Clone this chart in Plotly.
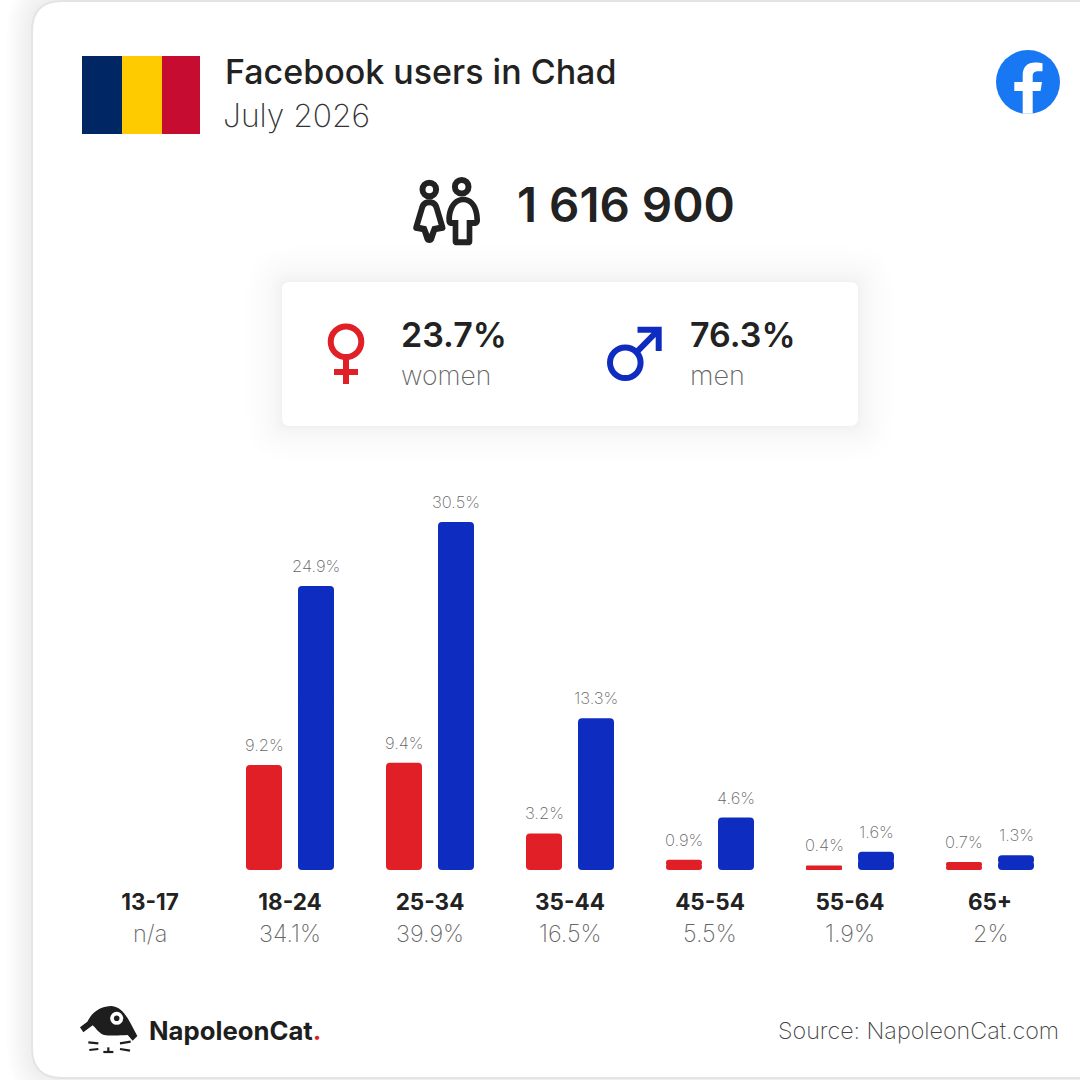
import re
import numpy as np
import plotly.graph_objects as go

SIZE = 1080
FONT = "Inter"
DARK = "#222222"
GREY = "#666666"
RED = "#e01f26"
BLUE = "#0f2cc0"

age_groups = ["13-17", "18-24", "25-34", "35-44", "45-54", "55-64", "65+"]
age_totals = ["n/a", "34.1%", "39.9%", "16.5%", "5.5%", "1.9%", "2%"]
women = [None, 9.2, 9.4, 3.2, 0.9, 0.4, 0.7]
men = [None, 24.9, 30.5, 13.3, 4.6, 1.6, 1.3]

total_users = "1 616 900"
women_share = "23.7%"
men_share = "76.3%"

flag_colors = ["#002664", "#fecb00", "#c60c30"]


def px(x, y):
    return x / SIZE, 1 - y / SIZE


# path written in picture pixels -> paper coords
def path(s, ox=0, oy=0, k=1):
    res, is_x = [], True
    for tok in re.findall(r"[A-Z]|-?\d+\.?\d*", s):
        if tok.isalpha():
            res.append(tok)
            continue
        if is_x:
            res.append(str((float(tok) / k + ox) / SIZE))
        else:
            res.append(str(1 - (float(tok) / k + oy) / SIZE))
        is_x = not is_x
    return " ".join(res)


def round_rect(x0, y0, x1, y1, r):
    return path(
        f"M {x0 + r} {y0} L {x1 - r} {y0} Q {x1} {y0} {x1} {y0 + r} L {x1} {y1 - r} "
        f"Q {x1} {y1} {x1 - r} {y1} L {x0 + r} {y1} Q {x0} {y1} {x0} {y1 - r} "
        f"L {x0} {y0 + r} Q {x0} {y0} {x0 + r} {y0} Z"
    )


shapes = []


def fill_path(s, color, opacity=1):
    shapes.append(dict(type="path", path=s, xref="paper", yref="paper", fillcolor=color,
                       opacity=opacity, line=dict(width=0), layer="below"))


def stroke_path(s, color, width):
    shapes.append(dict(type="path", path=s, xref="paper", yref="paper",
                       fillcolor="rgba(0,0,0,0)", line=dict(color=color, width=width), layer="below"))


def circle(cx, cy, r, fill="rgba(0,0,0,0)", color=None, width=0):
    x0, y0 = px(cx - r, cy + r)
    x1, y1 = px(cx + r, cy - r)
    shapes.append(dict(type="circle", x0=x0, y0=y0, x1=x1, y1=y1, xref="paper", yref="paper",
                       fillcolor=fill, line=dict(color=color or fill, width=width), layer="below"))


# card + soft shadows
for g in range(24, 0, -3):
    fill_path(round_rect(31 - g, 1 - g, 1130, 1078 + g, 30 + g), "#000000", 0.006)
shapes.append(dict(type="path", path=round_rect(32, 1, 1130, 1078, 30), xref="paper", yref="paper",
                   fillcolor="#ffffff", line=dict(color="#e4e4e4", width=2), layer="below"))
# opacity below ~0.004 rounds away to nothing
for g in [36, 30, 25, 21, 17, 14, 11, 9, 7, 5, 4, 3, 2, 1]:
    fill_path(round_rect(282 - g, 282 - g, 858 + g, 426 + g, 8 + g), "#000000", 0.004)
fill_path(round_rect(282, 282, 858, 426, 8), "#ffffff")

# flag
for i, col in enumerate(flag_colors):
    x0 = [82, 122, 162][i]
    x1 = [122, 162, 200][i]
    fill_path(path(f"M {x0} 56 L {x1} 56 L {x1} 134 L {x0} 134 Z"), col)

# facebook logo
circle(1028, 82, 32, fill="#1877f2")
fill_path(path("M 1022.7 113.7 L 1022.7 91 L 1014.3 91 L 1014.3 82 L 1022.7 82 L 1022.7 75 "
               "C 1022.7 67 1027.5 62.5 1035 62.5 C 1038 62.5 1041 63 1042.5 63.3 L 1042.5 71.3 "
               "L 1038 71.3 C 1034 71.3 1032.7 73.5 1032.7 76 L 1032.7 82 L 1042 82 L 1040.5 91 "
               "L 1032.7 91 L 1032.7 113.7 Z"), "#ffffff")

# people icon, coords from 3x crop at (400, 170)
circle(429.3, 189.5, 6.8, color=DARK, width=6)
circle(461.7, 186.7, 6.8, color=DARK, width=6)
fill_path(path("M 88 88 C 72 88 62 96 58 110 L 40 170 C 38 178 42 182 50 183 L 66 186 L 74 210 "
               "C 78 222 98 222 102 210 L 110 186 L 126 183 C 134 182 138 178 136 170 L 118 110 "
               "C 114 96 104 88 88 88 Z", 400, 170, 3), DARK)
fill_path(path("M 88 106 C 80 106 76 110 74 118 L 60 165 L 79 169 L 88 192 L 97 169 L 116 165 "
               "L 102 118 C 100 110 96 106 88 106 Z", 400, 170, 3), "#ffffff")
fill_path(path("M 190 80 C 160 80 139 108 139 150 C 139 162 145 168 156 168 L 158 168 L 158 212 "
               "C 158 222 162 226 172 226 L 203 226 C 213 226 217 222 217 212 L 217 168 L 222 168 "
               "C 233 168 240 162 240 150 C 240 108 220 80 190 80 Z", 400, 170, 3), DARK)
fill_path(path("M 190 97 C 170 97 156 118 156 150 L 175 150 L 175 208 L 200 208 L 200 150 L 223 150 "
               "C 223 118 210 97 190 97 Z", 400, 170, 3), "#ffffff")

# gender icons
circle(346, 341.7, 15.3, color=RED, width=6)
fill_path(path("M 343 356 L 349 356 L 349 369 L 358 369 L 358 375 L 349 375 L 349 384 L 343 384 "
               "L 343 375 L 334 375 L 334 369 L 343 369 Z"), RED)
circle(625.3, 362.8, 15.3, color=BLUE, width=6)
fill_path(path("M 637.5 326.7 L 661.7 326.7 L 661.7 351 L 655.7 351 L 655.7 337 L 638 355 "
               "L 634 350.5 L 651.5 332.7 L 637.5 332.7 Z"), BLUE)

# napoleoncat logo, coords from 3x crop at (60, 990)
fill_path(path("M 60 112 L 82 95 C 98 62 128 48 155 48 C 185 50 205 85 218 112 L 232 138 L 218 152 "
               "L 203 135 C 180 136 150 138 130 134 C 116 130 106 112 98 106 L 70 127 Z",
               60, 990, 3), "#1e1e1e")
circle(116.7, 1018.3, 6.5, fill="#ffffff")
circle(116.7, 1018.3, 2.8, fill="#1e1e1e")
for s in ["M 85 157 L 115 160", "M 88 180 L 115 177", "M 180 160 L 212 155", "M 180 177 L 210 182",
          "M 130 186 L 160 186", "M 145 172 L 145 186"]:
    stroke_path(path(s, 60, 990, 3), "#1e1e1e", 2.2)

fig = go.Figure()

# each bar is 2 overlapping halves so both ends get the rounded corners
for name, values, col in [("women", women, RED), ("men", men, BLUE)]:
    v = np.array(values, dtype=float)
    fig.add_trace(go.Bar(x=age_groups, y=v * 0.6, base=v * 0.4, name=name, offsetgroup=name,
                         marker=dict(color=col, line=dict(width=0), cornerradius=4)))
    fig.add_trace(go.Bar(x=age_groups, y=-v * 0.6, base=v * 0.6, name=name, offsetgroup=name,
                         marker=dict(color=col, line=dict(width=0), cornerradius=4)))

annotations = []


def label(x, y, text, size, color=DARK, weight=400, anchor="left"):
    ax, ay = px(x, y)
    annotations.append(dict(x=ax, y=ay, xref="paper", yref="paper", text=text, showarrow=False,
                            xanchor=anchor, yanchor="middle",
                            font=dict(family=FONT, size=size, color=color, weight=weight)))


label(223, 71, "Facebook users in Chad", 34, DARK, 500)
label(221, 115, "July 2026", 31.8, "#333333", 200)
label(515, 204, total_users, 47.5, DARK, 600)
label(399, 335, women_share, 34, DARK, 600)
label(399, 375, "women", 26.5, GREY, 200)
label(688, 335, men_share, 34, DARK, 600)
label(688, 375, "men", 27, GREY, 200)
label(147, 1030, 'NapoleonCat<span style="color:#e01f26">.</span>', 25.7, "#1e1e1e", 700)
label(1061, 1030, "Source: NapoleonCat.com", 23.3, "#444444", 200, "right")

# bar value labels, tied to the data scale
for i in range(len(age_groups)):
    for values, dx in [(women, -26 / 140), (men, 26 / 140)]:
        if values[i] is None:
            continue
        annotations.append(dict(x=i + dx, y=values[i], xref="x", yref="y", text=f"{values[i]}%",
                                showarrow=False, yshift=20, xanchor="center", yanchor="middle",
                                font=dict(family=FONT, size=16.5, color=GREY, weight=200)))
    annotations.append(dict(x=i, y=px(0, 933)[1], xref="x", yref="paper", text=age_totals[i],
                            showarrow=False, xanchor="center", yanchor="middle",
                            font=dict(family=FONT, size=23.5, color=GREY, weight=200)))

fig.update_layout(
    width=SIZE, height=SIZE,
    margin=dict(l=0, r=0, t=0, b=0),
    paper_bgcolor="#ffffff", plot_bgcolor="rgba(0,0,0,0)",
    showlegend=False,
    barmode="group",
    bargap=36 / 140,
    bargroupgap=16 / 52,
    shapes=shapes,
    annotations=annotations,
    font=dict(family=FONT),
    xaxis=dict(domain=[80 / SIZE, 1060 / SIZE], type="category", categoryorder="array",
               categoryarray=age_groups, range=[-0.5, 6.5], showgrid=False, zeroline=False,
               showline=False, ticks="", ticklabelstandoff=16,
               tickfont=dict(family=FONT, size=22.5, color=DARK, weight=700)),
    yaxis=dict(domain=[(SIZE - 870) / SIZE, (SIZE - 470) / SIZE], range=[0, 400 / 11.41],
               visible=False),
)

fig.write_html("out.html", config=dict(displayModeBar=False),
               post_script="document.body.style.margin='0';document.body.style.overflow='hidden';")
